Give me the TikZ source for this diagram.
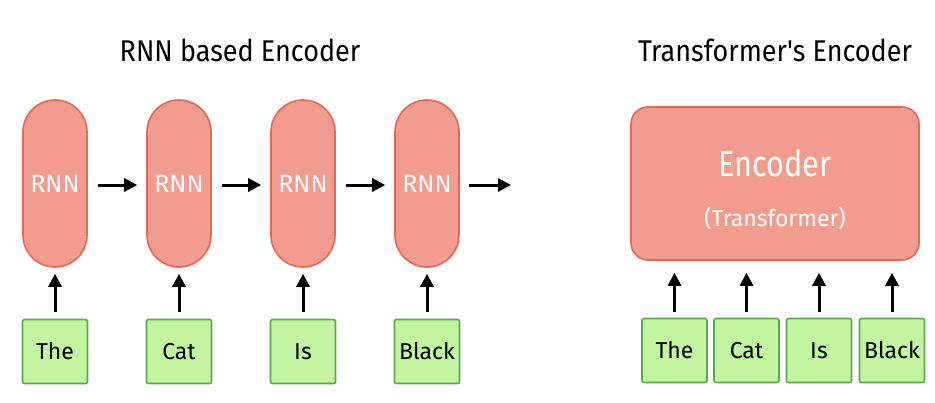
\documentclass[tikz,border=0pt]{standalone}
\usepackage{fontspec}
\usepackage{graphicx}
\newfontfamily\hand{Fira Sans}
\usetikzlibrary{arrows.meta}
\definecolor{rnnfill}{HTML}{F29C8F}
\definecolor{rnnline}{HTML}{EA6553}
\definecolor{wfill}{HTML}{C3F4A0}
\definecolor{wline}{HTML}{5AAA4C}
\newcommand{\narrow}[2]{\scalebox{#1}[1]{#2}}
\tikzset{
  rnnbox/.style={draw=rnnline, fill=rnnfill, line width=1.6pt, rounded corners=32pt,
    minimum width=64pt, minimum height=167pt, inner sep=0pt, text=white,
    font=\hand\fontsize{25}{27}\selectfont},
  encbox/.style={draw=rnnline, fill=rnnfill, line width=1.6pt, rounded corners=17pt,
    minimum width=288pt, minimum height=153pt, inner sep=0pt, text=white},
  wordbox/.style={draw=wline, fill=wfill, line width=1.6pt, rounded corners=2pt,
    minimum width=65pt, minimum height=64pt, inner sep=0pt,
    font=\hand\fontsize{23}{25}\selectfont},
  title/.style={font=\hand\fontsize{30}{32}\selectfont, inner sep=0pt},
  arr/.style={line width=3pt, -{Triangle[length=13pt,width=13pt]}}
}
\begin{document}
\begin{tikzpicture}[x=1pt,y=-1pt]
\useasboundingbox[fill=white] (0,0) rectangle (935,402);
% titles
\node[title] (t1) at (240,50) {\narrow{0.9}{RNN based Encoder}};
\node[title] (t2) at (775,50) {\narrow{0.9}{Transformer's Encoder}};
% RNN cells
\node[rnnbox] (r1) at (55,183.5) {RNN};
\node[rnnbox] (r2) at (179,183.5) {RNN};
\node[rnnbox] (r3) at (303,183.5) {RNN};
\node[rnnbox] (r4) at (427,183.5) {RNN};
\coordinate (rout) at (511,185);
% words left
\node[wordbox] (a1) at (55,351.5) {The};
\node[wordbox] (a2) at (179,351.5) {Cat};
\node[wordbox] (a3) at (303,351.5) {Is};
\node[wordbox] (a4) at (427,351.5) {Black};
% horizontal arrows
\draw[arr, shorten <=10pt, shorten >=9pt] (r1.east |- 0,185) -- (r2.west |- 0,185);
\draw[arr, shorten <=10pt, shorten >=9pt] (r2.east |- 0,185) -- (r3.west |- 0,185);
\draw[arr, shorten <=10pt, shorten >=9pt] (r3.east |- 0,185) -- (r4.west |- 0,185);
\draw[arr, shorten <=9pt] (r4.east |- 0,185) -- (rout);
% vertical arrows left
\foreach \i in {1,2,3,4}{
  \draw[arr, shorten <=7pt, shorten >=6pt] (a\i.north) -- (r\i.south);
}
% encoder
\node[encbox] (enc) at (775,183.5) {};
\node[text=white, font=\hand\fontsize{36}{38}\selectfont, inner sep=0pt] (enct) at (775,163) {\narrow{0.85}{Encoder}};
\node[text=white, font=\hand\fontsize{23}{25}\selectfont, inner sep=0pt] (encs) at (775,218) {(Transformer)};
% words right
\node[wordbox] (b1) at (674.5,350.5) {The};
\node[wordbox] (b2) at (746.5,350.5) {Cat};
\node[wordbox] (b3) at (819,350.5) {Is};
\node[wordbox] (b4) at (892,350.5) {Black};
\foreach \i in {1,2,3,4}{
  \draw[arr, shorten <=6pt, shorten >=12pt] (b\i.north) -- (b\i.north |- enc.south);
}
\end{tikzpicture}
\end{document}
